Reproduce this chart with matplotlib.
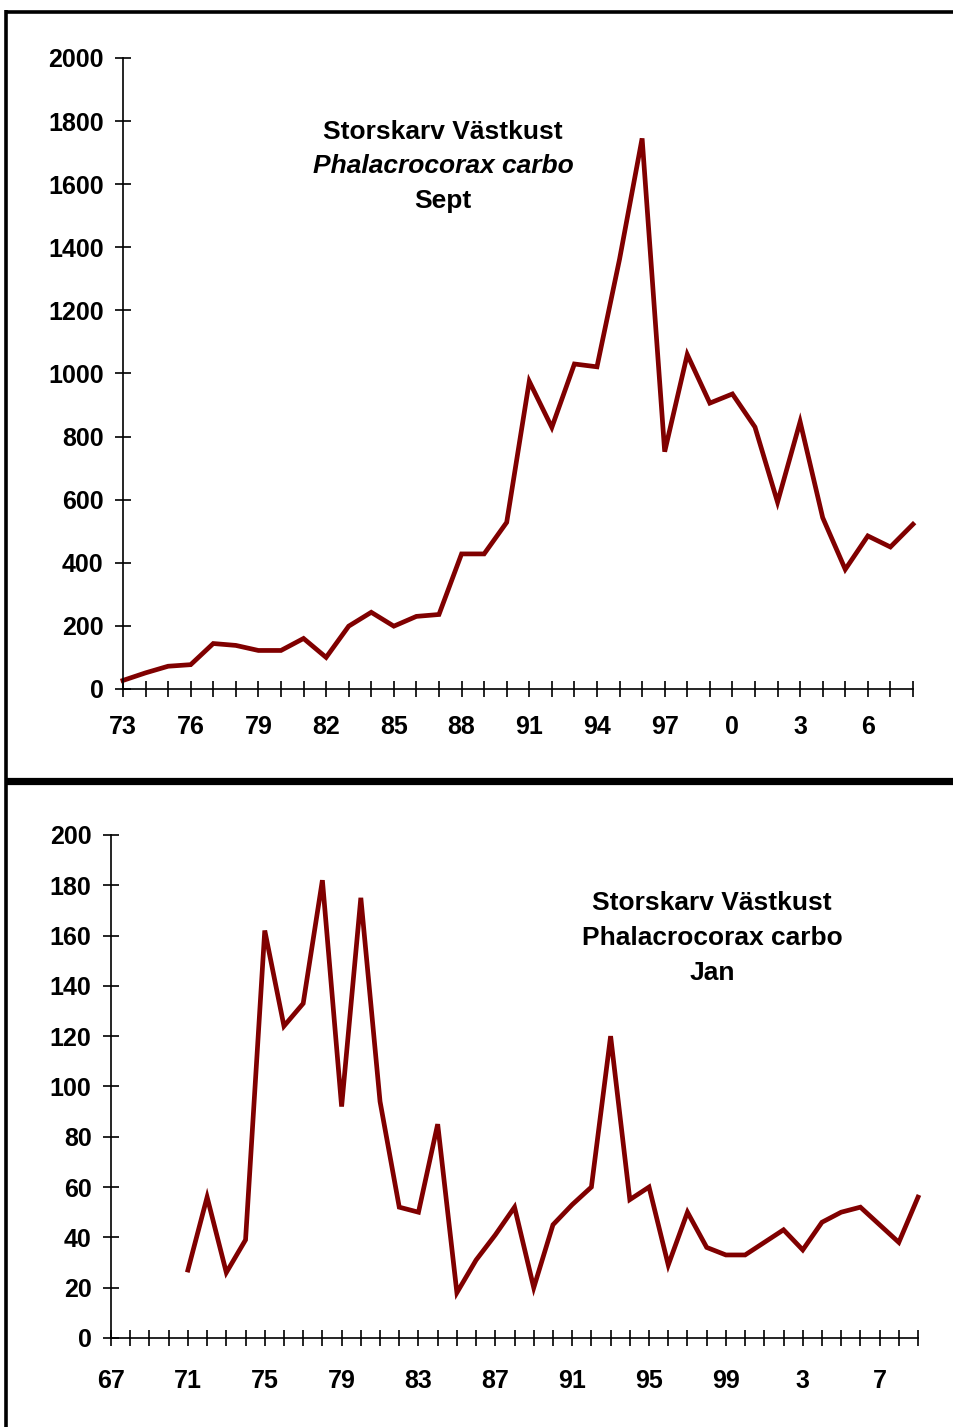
import matplotlib
matplotlib.use("Agg")
import matplotlib.pyplot as plt
from matplotlib.lines import Line2D

plt.rcParams['font.family'] = ['Liberation Sans', 'DejaVu Sans']
plt.rcParams['font.weight'] = 'bold'

# september counts 1973-2008
sept_years = list(range(1973, 2009))
sept_counts = [27, 51, 72, 77, 144, 138, 122, 122, 160, 100,
               199, 243, 199, 230, 236, 428, 428, 528, 975, 829,
               1030, 1021, 1362, 1745, 752, 1060, 906, 935, 830, 592,
               847, 543, 379, 485, 450, 522]

# january counts 1971-2009
jan_years = list(range(1971, 2010))
jan_counts = [27, 56, 26, 39, 162, 124, 133, 182, 92, 175,
              94, 52, 50, 85, 18, 31, 41, 52, 20, 45,
              53, 60, 120, 55, 60, 29, 50, 36, 33, 33,
              38, 43, 35, 46, 50, 52, 45, 38, 56]

sept_yticks = list(range(0, 2001, 200))
jan_yticks = list(range(0, 201, 20))

line_col = '#800000'
fs = 18      # tick labels
fs_t = 19    # titles


def style_axis(ax, xmin, xmax, step, ymax, yticks, xpad):
    ax.set_xlim(xmin, xmax)
    ax.set_ylim(0, ymax)
    for s in ['top', 'right']:
        ax.spines[s].set_visible(False)
    for s in ['left', 'bottom']:
        ax.spines[s].set_linewidth(1.2)
        ax.spines[s].set_color('black')
    yrs = list(range(xmin, xmax + 1))
    ax.set_xticks(yrs)
    ax.set_xticklabels([str(y % 100) if (y - xmin) % step == 0 else '' for y in yrs])
    ax.set_yticks(yticks)
    ax.set_yticklabels([str(v) for v in yticks])
    ax.tick_params(axis='x', direction='inout', length=12, width=1.2, pad=xpad,
                   labelsize=fs)
    ax.tick_params(axis='y', direction='inout', length=12, width=1.2, pad=8,
                   labelsize=fs)
    for lab in ax.get_xticklabels() + ax.get_yticklabels():
        lab.set_fontweight('bold')


def title_block(ax, x, y0, dy, lines, italic_line=None):
    for i, txt in enumerate(lines):
        ax.text(x, y0 - i * dy, txt, transform=ax.transAxes, ha='center',
                va='center', fontsize=fs_t, fontweight='bold',
                style='italic' if i == italic_line else 'normal')


fig = plt.figure(figsize=(9.54, 14.27), dpi=100)

# upper panel: September
ax1 = fig.add_axes([0.1289, 0.5172, 0.8281, 0.4422])
ax1.plot(sept_years, sept_counts, color=line_col, lw=3.4, clip_on=False,
         solid_joinstyle='miter')
style_axis(ax1, 1973, 2008, 3, 2000, sept_yticks, 13)
title_block(ax1, 0.405, 0.883, 0.0545,
            ['Storskarv Västkust', 'Phalacrocorax carbo', 'Sept'], italic_line=1)

# lower panel: January
ax2 = fig.add_axes([0.1164, 0.0624, 0.8459, 0.3525])
ax2.plot(jan_years, jan_counts, color=line_col, lw=3.4, clip_on=False,
         solid_joinstyle='miter')
style_axis(ax2, 1967, 2009, 4, 200, jan_yticks, 16)
title_block(ax2, 0.745, 0.865, 0.0695,
            ['Storskarv Västkust', 'Phalacrocorax carbo', 'Jan'])

# black frame round the panels
fig.add_artist(Line2D([0.0052, 1.0], [0.9919, 0.9919], transform=fig.transFigure,
                      color='black', lw=2.6, solid_capstyle='butt'))
fig.add_artist(Line2D([0.0068, 0.0068], [0.0, 0.993], transform=fig.transFigure,
                      color='black', lw=2.6, solid_capstyle='butt'))
fig.add_artist(Line2D([0.0052, 1.0], [0.453, 0.453], transform=fig.transFigure,
                      color='black', lw=5.2, solid_capstyle='butt'))

fig.savefig('out.png', dpi=100)
